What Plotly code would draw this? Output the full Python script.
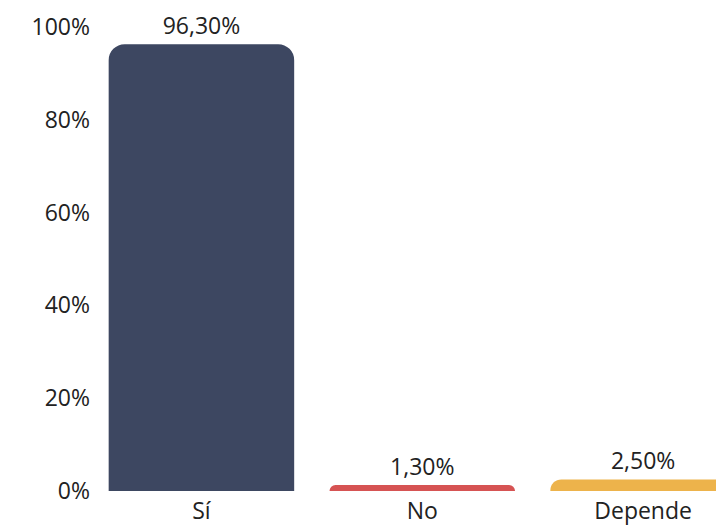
import plotly.graph_objects as go

categories = ["Sí", "No", "Depende"]
values = [96.3, 1.3, 2.5]
colors = ["#3D4761", "#D65353", "#EDB34B"]
y_ticks = [0, 20, 40, 60, 80, 100]

labels = [f"{v:.2f}%".replace(".", ",") for v in values]

fig = go.Figure(
    go.Bar(
        x=categories,
        y=values,
        marker=dict(color=colors, line=dict(width=0)),
        text=labels,
        textposition="outside",
        textfont=dict(size=23, color="#222222"),
        cliponaxis=False,
        hoverinfo="skip",
    )
)

fig.update_layout(
    width=716,
    height=527,
    margin=dict(l=91, r=0, t=27, b=36),
    paper_bgcolor="white",
    plot_bgcolor="white",
    font=dict(family="Open Sans", size=23, color="#222222"),
    bargap=0.16,
    barcornerradius=16,
    showlegend=False,
)
fig.update_xaxes(
    range=[-0.5, 2.33],
    showgrid=False,
    showline=False,
    zeroline=False,
    ticks="",
    ticklabelstandoff=4,
    tickfont=dict(size=23, color="#222222"),
)
fig.update_yaxes(
    range=[0, 100],
    tickvals=y_ticks,
    ticktext=[f"{t}%" for t in y_ticks],
    showgrid=False,
    showline=False,
    zeroline=False,
    ticks="",
    tickfont=dict(size=23, color="#222222"),
)

fig.write_html("out.html")
